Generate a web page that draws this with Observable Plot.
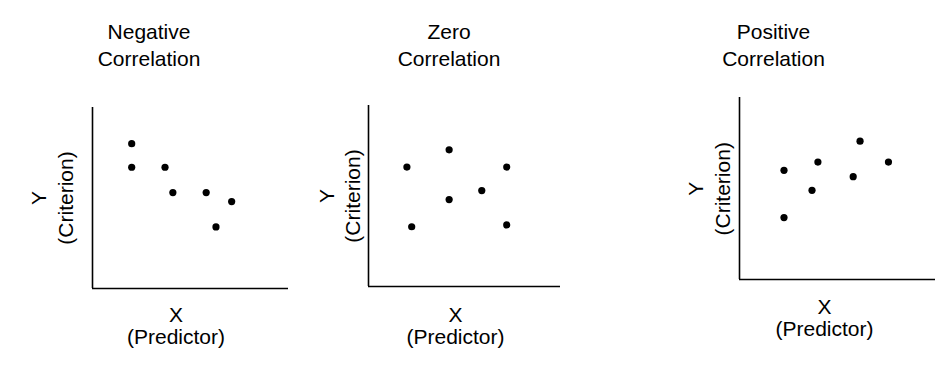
<!DOCTYPE html>
<html>
<head>
<meta charset="utf-8">
<script src="https://cdn.jsdelivr.net/npm/d3@7"></script>
<script src="https://cdn.jsdelivr.net/npm/@observablehq/plot@0.6"></script>
<style>
  html, body { margin: 0; padding: 0; background: #fff; }
  #chart { position: relative; width: 937px; height: 371px; overflow: hidden; background: #fff; }
  #chart svg { position: absolute; left: 0; top: 0; }
</style>
</head>
<body>
<div id="chart"></div>
<script>
// ---- Data (arbitrary 0–10 units on each panel's axes) ----
const titles = ["Negative\nCorrelation", "Zero\nCorrelation", "Positive\nCorrelation"];
const yLabel = "Y\n(Criterion)";
const xLabel = "X\n(Predictor)";

const negX = [2.0, 2.0, 3.7, 4.1, 5.8, 7.1, 6.3];
const negY = [8.0, 6.7, 6.7, 5.3, 5.3, 4.8, 3.4];

const zeroX = [2.0, 4.2, 7.2, 5.9, 4.2, 2.25, 7.2];
const zeroY = [6.6, 7.55, 6.6, 5.3, 4.8, 3.3, 3.4];

const posX = [2.27, 4.0, 6.15, 7.6, 5.8, 3.7, 2.27];
const posY = [6.0, 6.45, 7.6, 6.45, 5.65, 4.9, 3.4];

const axisDomain = [0, 10];

// ---- Layout (pixel positions of each panel's frame and its texts) ----
const W = 937, H = 371;
const FONT = "'Liberation Sans', Arial, Helvetica, sans-serif";
const FS = 21;

// title: center x, baseline of last line; ylabel: baseline x of last line, center y;
// xlabel: center x, baseline y of last line
const layouts = [
  { left: 92, right: 288, top: 107, bottom: 288,
    title: [148.5, 65], ylab: [72, 197.5], xlab: [175.5, 343.5] },
  { left: 368, right: 560, top: 105, bottom: 286,
    title: [448.5, 65], ylab: [359.5, 195.5], xlab: [455, 343.5] },
  { left: 739, right: 935, top: 97, bottom: 279,
    title: [773, 65], ylab: [729, 188.3], xlab: [824, 335.5] }
];
const titleLH = 1.27, yLabLH = 1.25, xLabLH = 1.03;

const series = [
  { xs: negX, ys: negY },
  { xs: zeroX, ys: zeroY },
  { xs: posX, ys: posY }
];

const chart = document.getElementById("chart");

series.forEach((s, i) => {
  const L = layouts[i];
  const pts = s.xs.map((x, k) => ({ x, y: s.ys[k] }));
  const mL = L.left, mT = L.top, mR = W - L.right, mB = H - L.bottom;
  // absolute position -> offset from the frame's top-left corner
  const at = (ax, ay) => ({ frameAnchor: "top-left", dx: ax - mL, dy: ay - mT });
  const textStyle = { text: d => d, lineAnchor: "bottom", textAnchor: "middle", fontSize: FS, fill: "#000" };

  const marks = [
    Plot.ruleX([0], { stroke: "#000", strokeWidth: 1.6 }),
    Plot.ruleY([0], { stroke: "#000", strokeWidth: 1.6 }),
    Plot.dot(pts, { x: "x", y: "y", r: 3.6, fill: "#000", stroke: "none" }),
    Plot.text([titles[i]], { ...textStyle, ...at(L.title[0], L.title[1]), lineHeight: titleLH }),
    Plot.text([yLabel], { ...textStyle, ...at(L.ylab[0], L.ylab[1]), rotate: -90, lineHeight: yLabLH }),
    Plot.text([xLabel], { ...textStyle, ...at(L.xlab[0], L.xlab[1]), lineHeight: xLabLH })
  ];

  const svg = Plot.plot({
    width: W, height: H,
    marginLeft: mL, marginRight: mR, marginTop: mT, marginBottom: mB,
    x: { domain: axisDomain, axis: null },
    y: { domain: axisDomain, axis: null },
    style: { background: "transparent", fontFamily: FONT, overflow: "visible" },
    marks
  });
  chart.appendChild(svg);
});
</script>
</body>
</html>
